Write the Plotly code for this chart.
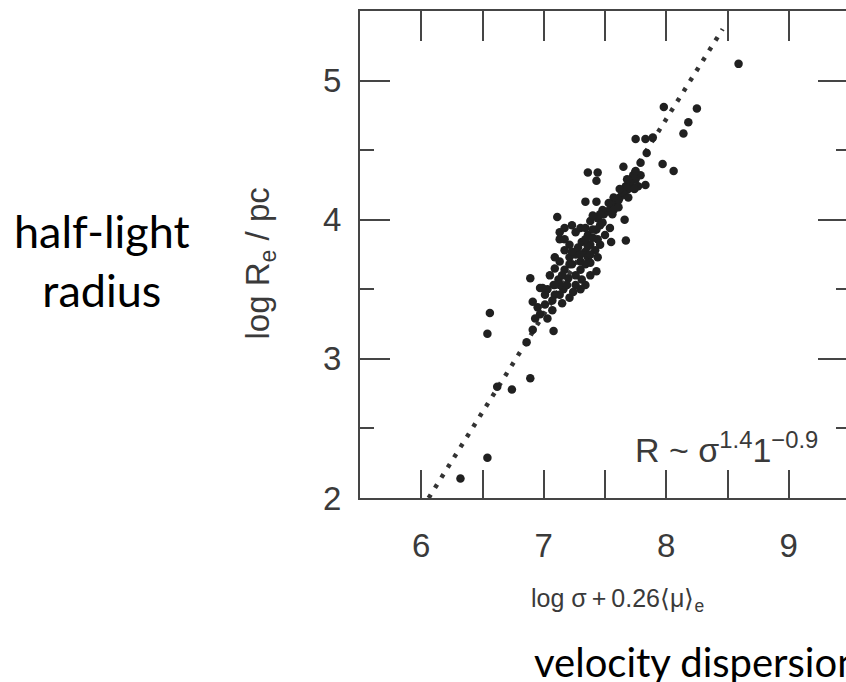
import plotly.graph_objects as go

# ---- data ----
x_outer = [8.59, 8.25, 8.18, 8.14, 7.98, 7.75, 7.83, 7.89, 7.84, 7.79, 7.97, 8.06,
           7.77, 7.83, 7.65, 7.36, 7.44, 7.43, 7.34, 7.43, 7.11, 7.66, 7.55, 7.67,
           6.89, 6.97, 6.56, 6.54, 6.91, 7.08, 6.86, 6.89, 6.74, 6.62, 6.54, 6.32]
y_outer = [5.12, 4.80, 4.70, 4.62, 4.81, 4.58, 4.58, 4.59, 4.48, 4.41, 4.40, 4.35,
           4.24, 4.25, 4.38, 4.34, 4.34, 4.28, 4.13, 4.13, 4.02, 4.00, 3.84, 3.85,
           3.58, 3.51, 3.33, 3.18, 3.21, 3.20, 3.12, 2.86, 2.78, 2.80, 2.29, 2.14]

x_core = [7.79, 7.75, 7.72, 7.69, 7.66, 7.62, 7.59, 7.56, 7.52, 7.49, 7.70, 7.64,
          7.61, 7.67, 7.73, 7.57,
          7.13, 7.17, 7.23, 7.30, 7.38, 7.44, 7.48, 7.43, 7.36, 7.31, 7.38, 7.44,
          7.50, 7.21, 7.17, 7.26, 7.34, 7.42, 7.13, 7.54, 7.48,
          7.13, 7.09, 7.17, 7.23, 7.30, 7.36, 7.05, 7.12, 7.20, 7.26, 7.31, 7.38,
          7.03, 7.09, 7.16, 7.21, 7.30, 7.43, 7.07, 7.15,
          6.91, 6.95, 7.01, 6.97, 7.03, 7.07, 6.93, 7.01, 6.99,
          7.75, 7.68, 7.62, 7.57, 7.53, 7.46, 7.40,
          7.26, 7.34, 7.40, 7.28, 7.36, 7.21, 7.30, 7.34, 7.38, 7.09,
          7.13, 7.08, 7.19,
          7.46, 7.40, 7.34, 7.17, 7.23, 7.30, 7.38, 7.46, 7.44, 7.21, 7.15,
          7.26, 7.34, 7.09, 7.13, 7.24, 7.56, 7.61, 7.69, 7.74]
y_core = [4.32, 4.29, 4.24, 4.22, 4.18, 4.16, 4.12, 4.09, 4.06, 4.04, 4.27, 4.20,
          4.14, 4.24, 4.32, 4.07,
          3.91, 3.94, 3.96, 3.94, 3.99, 4.01, 3.98, 3.93, 3.89, 3.84, 3.82, 3.86,
          3.89, 3.82, 3.78, 3.75, 3.77, 3.78, 3.86, 3.94, 4.07,
          3.70, 3.65, 3.64, 3.68, 3.70, 3.73, 3.60, 3.57, 3.58, 3.53, 3.57, 3.60,
          3.50, 3.46, 3.50, 3.44, 3.50, 3.63, 3.42, 3.40,
          3.41, 3.37, 3.39, 3.32, 3.29, 3.35, 3.29, 3.46, 3.51,
          4.35, 4.29, 4.22, 4.16, 4.12, 4.04, 4.03,
          3.91, 3.94, 3.87, 3.80, 3.81, 3.73, 3.64, 3.68, 3.69, 3.73,
          3.53, 3.53, 3.53,
          3.96, 3.93, 3.86, 3.86, 3.77, 3.75, 3.75, 3.82, 3.73, 3.68, 3.60,
          3.60, 3.53, 3.53, 3.46, 3.48, 4.04, 4.09, 4.16, 4.22]

fit_x = [6.06, 8.46]
fit_y = [2.00, 5.37]

x_ticks = [6, 7, 8, 9]
x_tick_text = ["6", "7", "8", "9"]
y_ticks = [2, 3, 4, 5]
y_tick_text = ["2", "3", "4", "5"]
x_range = [5.5, 9.467]
y_range = [2.0, 5.5]

axis_col = "#454545"
tick_font = dict(family="Liberation Sans, Arial, sans-serif", size=33, color="#3a3a3a")

fig = go.Figure()
fig.add_trace(go.Scatter(x=fit_x, y=fit_y, mode="lines",
                         line=dict(color="#333333", width=4.5, dash="4px,8px"),
                         hoverinfo="skip", showlegend=False))
fig.add_trace(go.Scatter(x=x_outer + x_core, y=y_outer + y_core, mode="markers",
                         marker=dict(size=8.5, color="#202020"), showlegend=False))
fig.add_trace(go.Scatter(x=[None], y=[None], xaxis="x2", yaxis="y2",
                         showlegend=False, hoverinfo="skip"))

fig.update_layout(
    width=846, height=682,
    margin=dict(l=360, r=0, t=11, b=184),
    paper_bgcolor="white", plot_bgcolor="white",
    showlegend=False,
    xaxis=dict(range=x_range, tickmode="array", tickvals=x_ticks, ticktext=x_tick_text,
               ticks="inside", ticklen=14, tickwidth=2, tickcolor=axis_col,
               minor=dict(dtick=0.5, tick0=5.5, ticks="inside", ticklen=28,
                          tickwidth=2, tickcolor=axis_col),
               showline=True, linecolor=axis_col, linewidth=2,
               showgrid=False, zeroline=False, tickfont=tick_font,
               ticklabelstandoff=17),
    yaxis=dict(range=y_range, tickmode="array", tickvals=y_ticks, ticktext=y_tick_text,
               ticks="inside", ticklen=30, tickwidth=2, tickcolor=axis_col,
               minor=dict(dtick=0.5, tick0=2, ticks="inside", ticklen=14,
                          tickwidth=2, tickcolor=axis_col),
               showline=True, linecolor=axis_col, linewidth=2,
               showgrid=False, zeroline=False, tickfont=tick_font,
               ticklabelstandoff=10),
    xaxis2=dict(range=x_range, overlaying="x", side="top", anchor="y",
                tickmode="array", tickvals=x_ticks, showticklabels=False,
                ticks="inside", ticklen=14, tickwidth=2, tickcolor=axis_col,
                minor=dict(dtick=0.5, tick0=5.5, ticks="inside", ticklen=30,
                           tickwidth=2, tickcolor=axis_col),
                showline=True, linecolor=axis_col, linewidth=2,
                showgrid=False, zeroline=False),
    yaxis2=dict(range=y_range, overlaying="y", side="right", anchor="x",
                tickmode="array", tickvals=y_ticks, showticklabels=False,
                ticks="inside", ticklen=28, tickwidth=2, tickcolor=axis_col,
                minor=dict(dtick=0.5, tick0=2, ticks="inside", ticklen=10,
                           tickwidth=2, tickcolor=axis_col),
                showline=False, showgrid=False, zeroline=False),
)

label_font = dict(family="Liberation Sans, Arial, sans-serif", size=25, color="#3a3a3a")
ylabel_font = dict(family="Liberation Sans, Arial, sans-serif", size=33, color="#3a3a3a")

fig.add_annotation(xref="paper", yref="paper", x=-0.2058, y=0.4815,
                   text="log R<sub>e</sub> / pc", textangle=-90, showarrow=False,
                   xanchor="center", yanchor="middle", font=ylabel_font)
fig.add_annotation(xref="paper", yref="paper", x=0.529, y=-0.2094,
                   text="log σ\u2009+\u20090.26⟨μ⟩<sub>e</sub>", showarrow=False,
                   xanchor="center", yanchor="middle", font=label_font)
fig.add_annotation(xref="paper", yref="paper", x=0.5617, y=0.1047,
                   text="R ~ σ<sup>1.4</sup>1<sup>−0.9</sup>", showarrow=False,
                   xanchor="left", yanchor="middle",
                   font=dict(family="Liberation Sans, Arial, sans-serif", size=34,
                             color="#3a3a3a"))
fig.add_annotation(xref="paper", yref="paper", x=-0.5309, y=0.4877,
                   text="half-light<br>radius", showarrow=False,
                   xanchor="center", yanchor="middle",
                   font=dict(family="Lato, sans-serif", size=45, color="black"))
fig.add_annotation(xref="paper", yref="paper", x=0.3539, y=-0.3368,
                   text="velocity dispersion", showarrow=False,
                   xanchor="left", yanchor="middle",
                   font=dict(family="Lato, sans-serif", size=40, color="black"))

fig.write_html("out.html")
